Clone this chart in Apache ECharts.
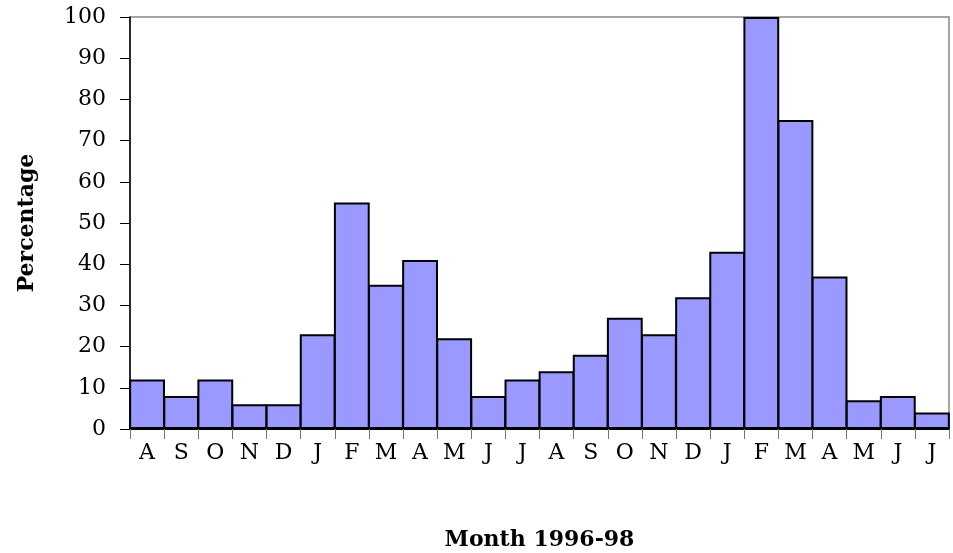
<!DOCTYPE html>
<html><head><meta charset="utf-8">
<script src="https://cdn.jsdelivr.net/npm/echarts@6/dist/echarts.min.js"></script>
<style>html,body{margin:0;padding:0;background:#fff}#c{width:953px;height:553px}</style>
</head><body><div id="c"></div>
<script>
var months = ['A','S','O','N','D','J','F','M','A','M','J','J','A','S','O','N','D','J','F','M','A','M','J','J'];
var percentages = [12,8,12,6,6,23,55,35,41,22,8,12,14,18,27,23,32,43,100,75,37,7,8,4];
var yTicks = [0,10,20,30,40,50,60,70,80,90,100];
var font = '"DejaVu Serif", "Liberation Serif", serif';
var chart = echarts.init(document.getElementById('c'), null, {renderer:'canvas'});
chart.setOption({
  animation:false,
  grid:{left:130,right:4,top:17,bottom:124,containLabel:false,outerBoundsMode:'none',
        show:true,borderColor:'#888',borderWidth:1.5,backgroundColor:'transparent'},
  xAxis:{
    type:'category', data:months,
    name:'Month 1996-98', nameLocation:'middle', nameGap:100, nameMoveOverlap:false,
    nameTextStyle:{fontFamily:font,fontWeight:'bold',fontSize:22,color:'#000'},
    axisLine:{show:true,lineStyle:{color:'#000',width:2}},
    axisTick:{show:true,alignWithLabel:false,length:10,lineStyle:{color:'#777',width:1}},
    axisLabel:{fontFamily:font,fontSize:22,color:'#000',margin:13,interval:0}
  },
  yAxis:{
    type:'value', min:0, max:100, interval:10,
    name:'Percentage', nameLocation:'middle', nameGap:92, nameMoveOverlap:false,
    nameTextStyle:{fontFamily:font,fontWeight:'bold',fontSize:22,color:'#000'},
    splitLine:{show:false},
    axisLine:{show:true,lineStyle:{color:'#000',width:1.5}},
    axisTick:{show:true,length:10,lineStyle:{color:'#000',width:1}},
    axisLabel:{fontFamily:font,fontSize:22,color:'#000',margin:24,
      formatter:function(v){return yTicks.indexOf(v)>=0?String(v):'';}}
  },
  series:[{
    type:'bar', data:percentages, barWidth:'105%', barCategoryGap:'0%',
    itemStyle:{color:'#9999FF',borderColor:'#000',borderWidth:2}
  }]
});
</script></body></html>
